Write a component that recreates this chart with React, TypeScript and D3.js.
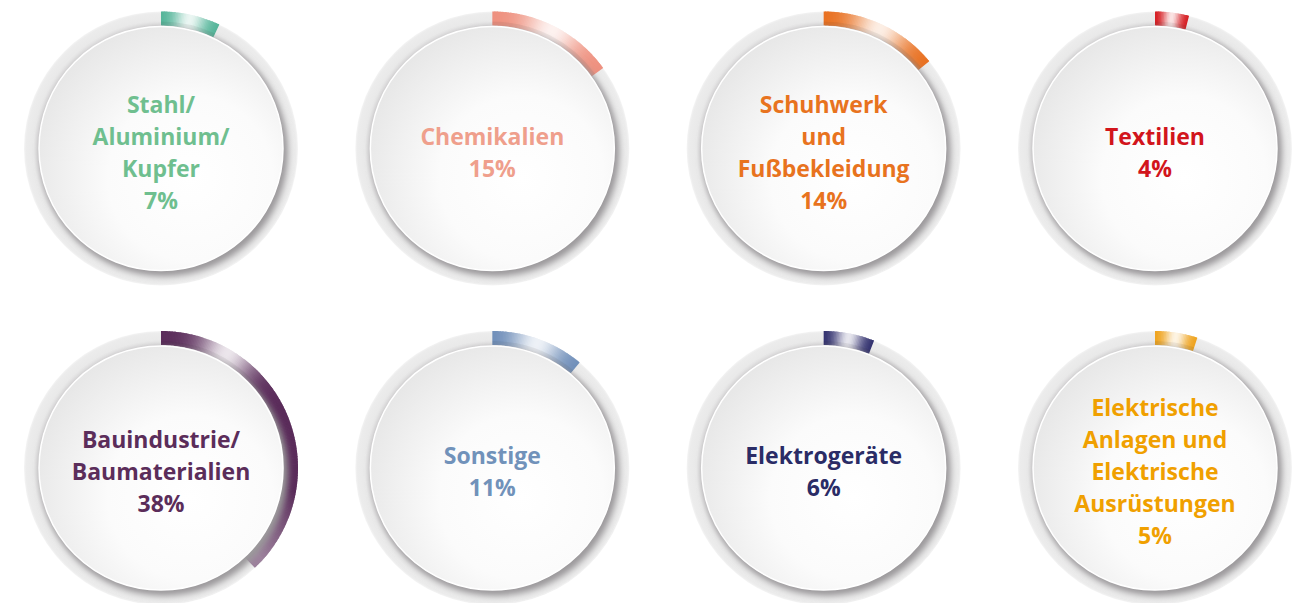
import { useEffect, useRef } from "react";
import * as d3 from "d3";

// labels (line by line), shares in percent and colours
const labelLines: string[][] = [
    ["Stahl/", "Aluminium/", "Kupfer"],
    ["Chemikalien"],
    ["Schuhwerk", "und", "Fußbekleidung"],
    ["Textilien"],
    ["Bauindustrie/", "Baumaterialien"],
    ["Sonstige"],
    ["Elektrogeräte"],
    ["Elektrische", "Anlagen und", "Elektrische", "Ausrüstungen"],
];
const shares = [7, 15, 14, 4, 38, 11, 6, 5];
const textColors = ["#6fbf8f", "#ef9f8c", "#e8731e", "#d2151c", "#5b2d5a", "#7192ba", "#2a2c66", "#f0a000"];
const arcColors = ["#4fb296", "#ee8f7d", "#e86e1d", "#d4161b", "#5a2c5a", "#6b8bb7", "#2c2b6a", "#eea016"];

const W = 1297;
const H = 603;

export default function App() {
    const svgRef = useRef<SVGSVGElement | null>(null);

    useEffect(() => {
        const svg = d3.select(svgRef.current)
            .attr('width', W)
            .attr('height', H);
        svg.selectAll('*').remove();

        const rOuter = 137;
        const rInner = 123;
        const rDisc = 122;

        const xScale = d3.scalePoint<number>().domain([0, 1, 2, 3]).range([161, 1155]);
        const yScale = d3.scalePoint<number>().domain([0, 1]).range([148.5, 468]);
        const angle = d3.scaleLinear().domain([0, 100]).range([0, 2 * Math.PI]);

        const defs = svg.append('defs');
        const ringGrad = defs.append('radialGradient').attr('id', 'ring-grad')
            .attr('cx', '50%').attr('cy', '50%').attr('r', '50%');
        ringGrad.append('stop').attr('offset', '0.86').attr('stop-color', '#c9c7c9');
        ringGrad.append('stop').attr('offset', '0.93').attr('stop-color', '#e9e9e9');
        ringGrad.append('stop').attr('offset', '0.985').attr('stop-color', '#ececec');
        ringGrad.append('stop').attr('offset', '1').attr('stop-color', '#f4f4f4');

        const discGrad = defs.append('radialGradient').attr('id', 'disc-grad')
            .attr('cx', '62%').attr('cy', '62%').attr('r', '75%');
        discGrad.append('stop').attr('offset', '0').attr('stop-color', '#ffffff');
        discGrad.append('stop').attr('offset', '0.45').attr('stop-color', '#fbfbfb');
        discGrad.append('stop').attr('offset', '1').attr('stop-color', '#e2e2e2');

        const blur = defs.append('filter').attr('id', 'shadow-blur')
            .attr('x', '-20%').attr('y', '-20%').attr('width', '140%').attr('height', '140%');
        blur.append('feGaussianBlur').attr('stdDeviation', 3);

        const arcGen = d3.arc<any>();

        shares.forEach((share, i) => {
            const cx = xScale(i % 4) as number;
            const cy = yScale(Math.floor(i / 4)) as number;
            const g = svg.append('g').attr('transform', `translate(${cx},${cy})`);

            defs.append('clipPath').attr('id', `clip-${i}`)
                .append('circle').attr('r', rOuter);

            // grey ring
            g.append('circle')
                .attr('r', rOuter)
                .attr('fill', 'url(#ring-grad)');

            // coloured arc, split in small pieces so the shine can follow the angle
            const span = angle(share);
            const spanDeg = share * 3.6;
            const glint = Math.min(spanDeg / 2, 30);
            const width = Math.min(spanDeg * 0.28, 13);
            const base = d3.color(arcColors[i]) as d3.RGBColor;
            const pieces = Math.max(8, Math.ceil(spanDeg * 1.5));
            const overlap = 0.006;
            const colorAt = (deg: number) => {
                let w = 0.88 * Math.exp(-Math.pow((deg - glint) / width, 2));
                if (deg > 100) w = Math.max(w, Math.min(0.4, (deg - 100) / 80));
                return d3.interpolateRgb(base.formatHex(), '#ffffff')(w);
            };
            d3.range(pieces).forEach(k => {
                const a0 = (span * k) / pieces;
                const a1 = Math.min(span, (span * (k + 1)) / pieces + overlap);
                const c = colorAt(((k + 0.5) / pieces) * spanDeg);
                g.append('path')
                    .attr('d', arcGen({ innerRadius: rInner, outerRadius: rOuter, startAngle: a0, endAngle: a1 }))
                    .attr('fill', c);
            });
            // inner edge darkening on the arc
            g.append('path')
                .attr('d', arcGen({ innerRadius: rInner, outerRadius: rInner + 4, startAngle: 0, endAngle: span }))
                .attr('fill', '#000')
                .attr('opacity', 0.06);

            // shadow under the disc
            g.append('g').attr('clip-path', `url(#clip-${i})`)
                .append('circle')
                .attr('cx', 3)
                .attr('cy', 4)
                .attr('r', rDisc + 2)
                .attr('fill', '#9c9a9c')
                .attr('filter', 'url(#shadow-blur)');

            // white disc
            g.append('circle')
                .attr('r', rDisc)
                .attr('fill', 'url(#disc-grad)')
                .attr('stroke', '#ffffff')
                .attr('stroke-width', 1.5);

            const lines = [...labelLines[i], `${share}%`];
            const lineH = 32;
            const top = 4 - ((lines.length - 1) * lineH) / 2;
            g.append('text')
                .attr('text-anchor', 'middle')
                .style('font-family', '"Open Sans", sans-serif')
                .style('font-weight', 700)
                .style('font-size', '23px')
                .attr('fill', textColors[i])
                .selectAll('tspan')
                .data(lines)
                .join('tspan')
                .attr('x', 0)
                .attr('y', (_d, k) => top + k * lineH)
                .attr('dy', '0.35em')
                .text(d => d);
        });
    }, []);

    return (
        <svg ref={svgRef} style={{ position: 'absolute', left: 0, top: 0, background: '#ffffff' }}></svg>
    );
}
